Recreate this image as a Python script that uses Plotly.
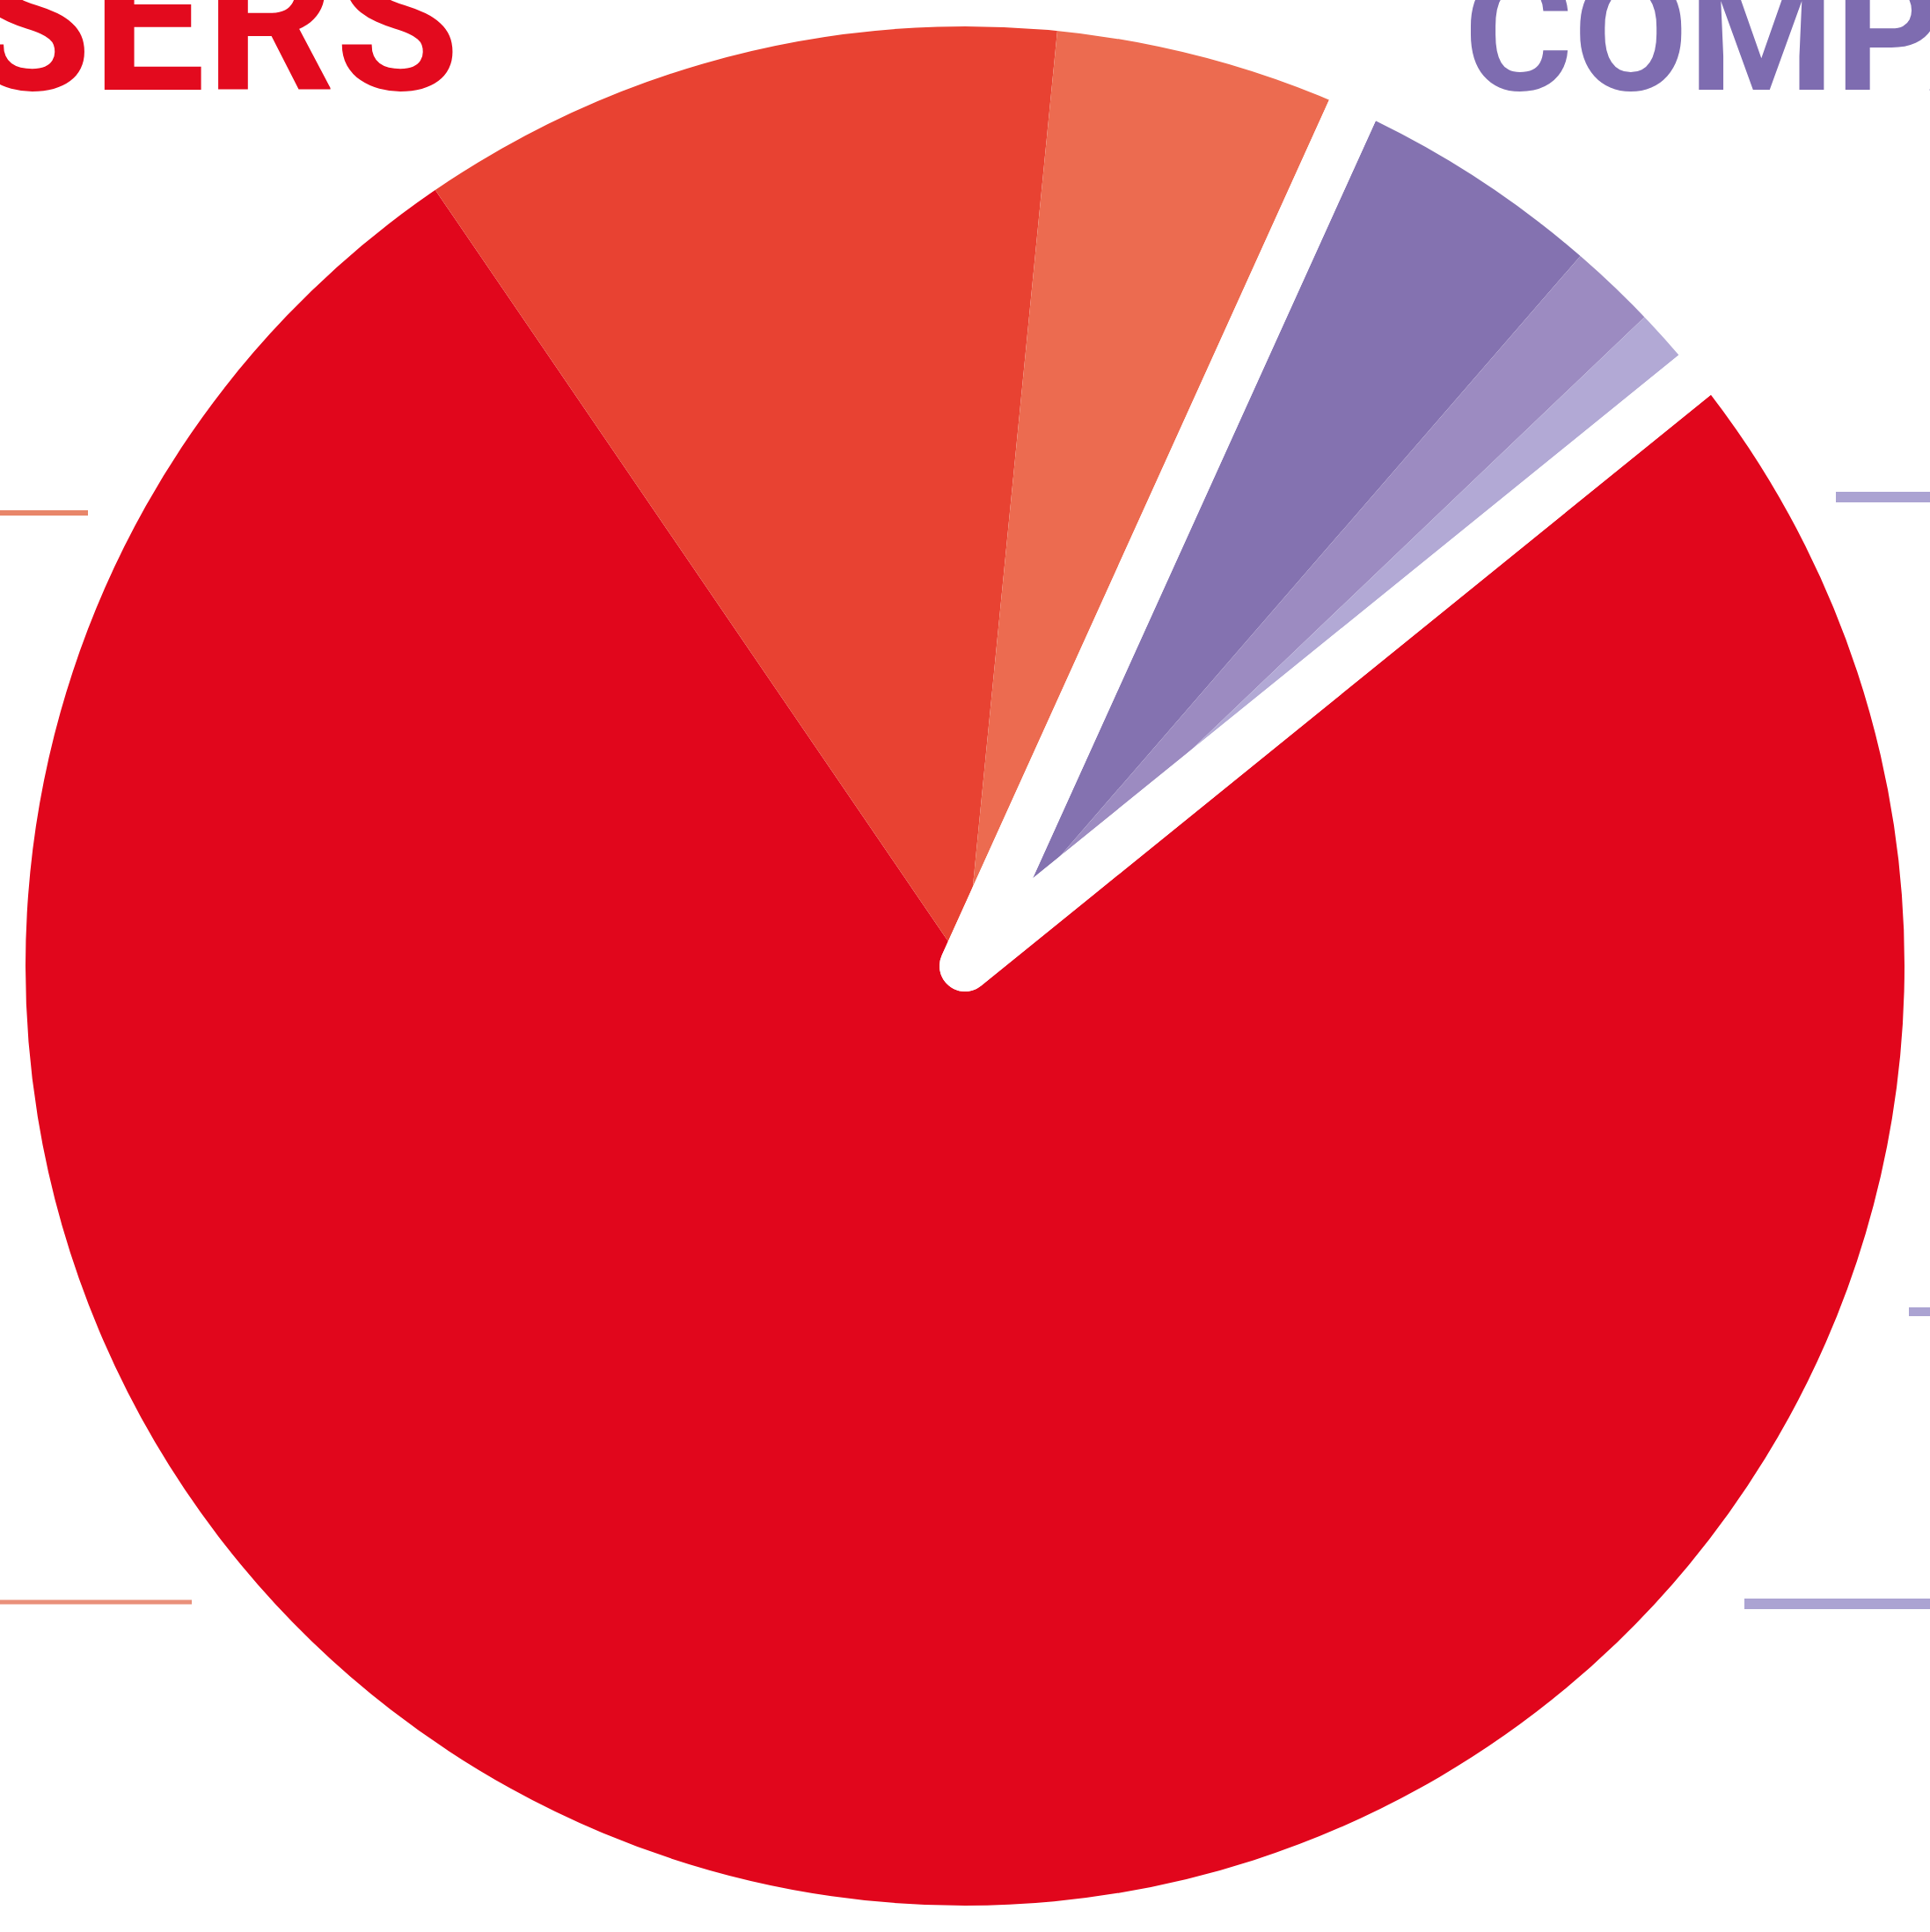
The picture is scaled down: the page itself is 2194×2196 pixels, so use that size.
import plotly.graph_objects as go

# ---- data -------------------------------------------------------------
slice_labels = ["Users – segment 1", "Users – segment 2", "Users – segment 3",
                "Companies – segment 1", "Companies – segment 2", "Companies – segment 3"]
slice_values = [76.3, 11.1, 5.2, 4.6, 1.5, 1.3]
slice_colors = ["#E1061C", "#E84232", "#EC6B50", "#8472B0", "#9C8BC1", "#B2A9D5"]

group_labels = ["USERS", "COMPANIES"]
group_members = [3, 3]          # number of slices in each group (in order)
group_colors = ["#E30A1E", "#7E6CB0"]

start_angle = 51                # first slice starts here (clockwise from 12 o'clock)

W, H = 2194, 2196

# group totals derived from the slice values
group_values = []
i = 0
for n in group_members:
    group_values.append(sum(slice_values[i:i + n]))
    i += n

fig = go.Figure()

fig.add_trace(go.Pie(
    labels=slice_labels, values=slice_values, sort=False,
    direction="clockwise", rotation=start_angle,
    marker=dict(colors=slice_colors, line=dict(width=0)),
    textinfo="none", hoverinfo="label+percent", showlegend=False,
    domain=dict(x=[0, 1], y=[0, 1]),
))

# white separators between the two groups (transparent fill, white outline)
fig.add_trace(go.Pie(
    labels=group_labels, values=group_values, sort=False,
    direction="clockwise", rotation=start_angle,
    marker=dict(colors=["rgba(0,0,0,0)", "rgba(0,0,0,0)"],
                line=dict(color="white", width=58)),
    textinfo="none", hoverinfo="skip", showlegend=False,
    domain=dict(x=[0, 1], y=[0, 1]),
))

fig.add_annotation(text="<b>USERS</b>", xref="paper", yref="paper",
                   x=525 / W, y=1 - 160 / H, xanchor="right", yanchor="bottom",
                   showarrow=False,
                   font=dict(family="Roboto", size=230, color=group_colors[0]))
fig.add_annotation(text="<b>COMPANIES</b>", xref="paper", yref="paper",
                   x=1662 / W, y=1 - 150 / H, xanchor="left", yanchor="bottom",
                   showarrow=False,
                   font=dict(family="Roboto", size=190, color=group_colors[1]))

# leader lines toward labels outside the view
leaders = [
    (0, 100, 583, "#E8866A", 6),
    (0, 218, 1821, "#E9907A", 5),
    (2087, W, 565, "#ABA3D2", 12),
    (2170, W, 1491, "#ABA3D2", 10),
    (1983, W, 1823, "#ABA3D2", 12),
]
for x0, x1, yy, col, lw in leaders:
    fig.add_shape(type="line", xref="paper", yref="paper",
                  x0=x0 / W, x1=x1 / W, y0=1 - yy / H, y1=1 - yy / H,
                  line=dict(color=col, width=lw), layer="above")

fig.update_layout(width=W, height=H, margin=dict(l=0, r=0, t=0, b=0),
                  paper_bgcolor="white", plot_bgcolor="white")

fig.write_html("out.html")
